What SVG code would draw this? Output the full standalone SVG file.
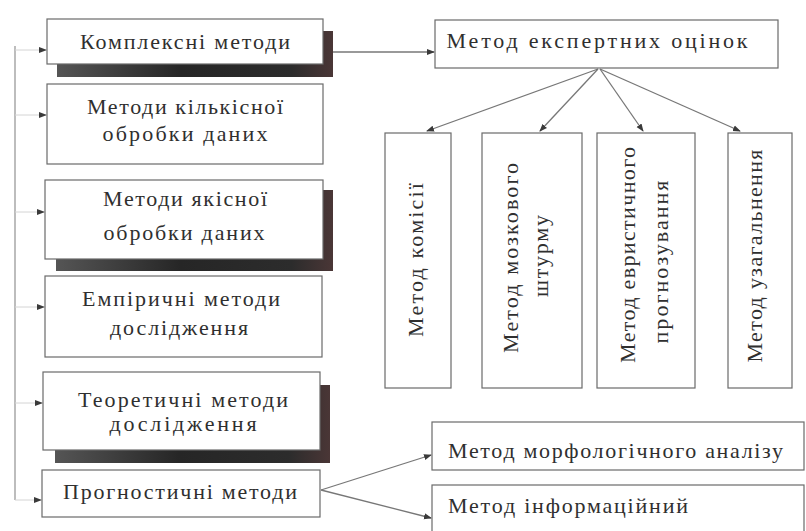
<svg xmlns="http://www.w3.org/2000/svg" width="806" height="531" viewBox="0 0 806 531">
<defs>
<style>
.box{fill:#fff;stroke:#6a6a6a;stroke-width:1.2}
.t{font-family:"Liberation Serif","Times New Roman",serif;font-size:22px;fill:#2f2f2f}
.m{text-anchor:middle}
.c{fill:none;stroke:#777;stroke-width:1.3}
.spine{fill:none;stroke:#9a9a9a;stroke-width:1.3}
.stub{fill:none;stroke:#d4d4d4;stroke-width:1}
</style>
<marker id="arr" viewBox="0 0 8 8" refX="7" refY="4" markerWidth="8" markerHeight="8" markerUnits="userSpaceOnUse" orient="auto">
<path d="M0,1 L8,4 L0,7 Z" fill="#3a3a3a"/>
</marker>
<linearGradient id="gh" x1="0" x2="1" y1="0" y2="0">
<stop offset="0" stop-color="#555"/>
<stop offset="0.45" stop-color="#262626"/>
<stop offset="0.85" stop-color="#2c2c2c"/>
<stop offset="1" stop-color="#4a3636"/>
</linearGradient>
</defs>
<rect width="806" height="531" fill="#fff"/>

<g id="connectors">
<path class="spine" d="M15,46 V500"/>
<path class="stub" d="M15,50 H46" marker-end="url(#arr)"/>
<path class="stub" d="M15,115 H46" marker-end="url(#arr)"/>
<path class="stub" d="M15,212 H44" marker-end="url(#arr)"/>
<path class="stub" d="M15,307 H44" marker-end="url(#arr)"/>
<path class="stub" d="M15,403 H42" marker-end="url(#arr)"/>
<path class="stub" d="M15,500 H41" marker-end="url(#arr)"/>
<path class="c" d="M333,52 H434" marker-end="url(#arr)"/>
<path class="c" d="M598,69 L427,131" marker-end="url(#arr)"/>
<path class="c" d="M598,69 L540,131" marker-end="url(#arr)"/>
<path class="c" d="M600,69 L643,131" marker-end="url(#arr)"/>
<path class="c" d="M600,69 L740,131" marker-end="url(#arr)"/>
<path class="c" d="M321,490 L431,455" marker-end="url(#arr)"/>
<path class="c" d="M321,490 L431,518" marker-end="url(#arr)"/>
</g>

<g id="complex">
<rect x="57" y="31" width="276" height="46" fill="url(#gh)"/>
<rect class="box" x="47" y="19" width="276" height="45"/>
<text class="t m" x="185" y="49" textLength="210" lengthAdjust="spacing">Комплексні методи</text>
</g>

<g id="quant">
<rect class="box" x="47" y="84" width="276" height="80"/>
<text class="t m" x="185" y="114" textLength="196" lengthAdjust="spacing">Методи кількісної</text>
<text class="t m" x="185" y="141" textLength="165" lengthAdjust="spacing">обробки даних</text>
</g>

<g id="qual">
<rect x="56" y="190" width="277" height="81" fill="url(#gh)"/>
<rect class="box" x="45" y="180" width="278" height="79"/>
<text class="t m" x="185" y="206" textLength="164" lengthAdjust="spacing">Методи якісної</text>
<text class="t m" x="184" y="240" textLength="161" lengthAdjust="spacing">обробки даних</text>
</g>

<g id="empir">
<rect class="box" x="45" y="276" width="277" height="81"/>
<text class="t m" x="181" y="306" textLength="198" lengthAdjust="spacing">Емпіричні методи</text>
<text class="t m" x="179" y="335" textLength="138" lengthAdjust="spacing">дослідження</text>
</g>

<g id="theor">
<rect x="55" y="385" width="275" height="78" fill="url(#gh)"/>
<rect class="box" x="43" y="372" width="277" height="78"/>
<text class="t m" x="183" y="407" textLength="210" lengthAdjust="spacing">Теоретичні методи</text>
<text class="t m" x="183" y="431" textLength="147" lengthAdjust="spacing">дослідження</text>
</g>

<g id="prog">
<rect class="box" x="42" y="470" width="278" height="47"/>
<text class="t m" x="180" y="499" textLength="234" lengthAdjust="spacing">Прогностичні методи</text>
</g>

<g id="expert">
<rect class="box" x="435" y="20" width="343" height="48"/>
<text class="t m" x="597" y="48" textLength="301" lengthAdjust="spacing">Метод експертних оцінок</text>
</g>

<g id="commission">
<rect class="box" x="385" y="133" width="66" height="255"/>
<text class="t m" transform="translate(423,260) rotate(-90)" textLength="154" lengthAdjust="spacing">Метод комісії</text>
</g>

<g id="brainstorm">
<rect class="box" x="482" y="133" width="100" height="255"/>
<text class="t m" transform="translate(518,258) rotate(-90)" textLength="190" lengthAdjust="spacing">Метод мозкового</text>
<text class="t m" transform="translate(548,256) rotate(-90)" textLength="82" lengthAdjust="spacing">штурму</text>
</g>

<g id="heuristic">
<rect class="box" x="597" y="133" width="98" height="255"/>
<text class="t m" transform="translate(635,255) rotate(-90)" textLength="216" lengthAdjust="spacing">Метод евристичного</text>
<text class="t m" transform="translate(668,262) rotate(-90)" textLength="163" lengthAdjust="spacing">прогнозування</text>
</g>

<g id="generalization">
<rect class="box" x="728" y="133" width="64" height="255"/>
<text class="t m" transform="translate(762,256) rotate(-90)" textLength="213" lengthAdjust="spacing">Метод узагальнення</text>
</g>

<g id="morph">
<rect class="box" x="432" y="422" width="372" height="48"/>
<text class="t" x="448" y="458" textLength="335" lengthAdjust="spacing">Метод морфологічного аналізу</text>
</g>

<g id="info">
<rect class="box" x="432" y="485" width="372" height="50"/>
<text class="t" x="448" y="513" textLength="240" lengthAdjust="spacing">Метод інформаційний</text>
</g>
</svg>
